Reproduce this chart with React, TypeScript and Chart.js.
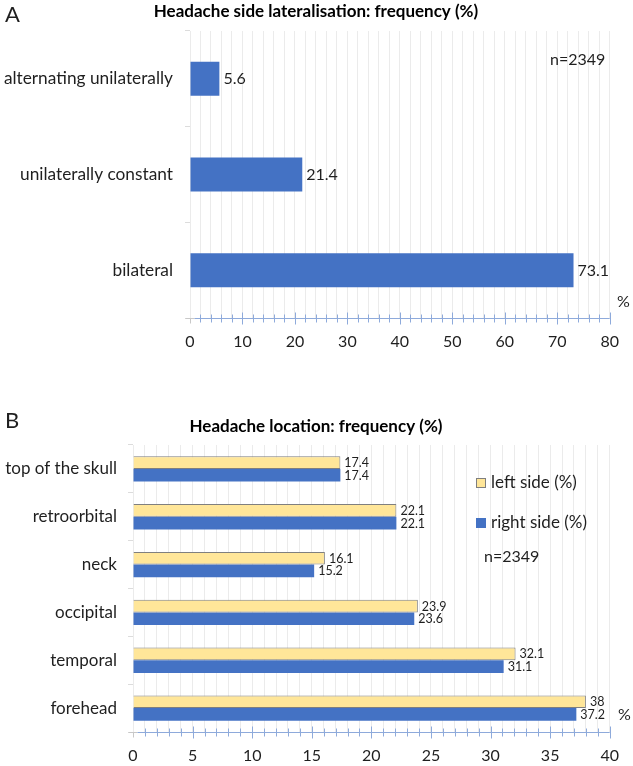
import React, { useEffect, useRef } from 'react';
import { Chart, registerables } from 'chart.js';

Chart.register(...registerables);

// ---------- data ----------
const latCategories = ['alternating unilaterally', 'unilaterally constant', 'bilateral'];
const latValues = [5.6, 21.4, 73.1];

const locCategories = ['top of the skull', 'retroorbital', 'neck', 'occipital', 'temporal', 'forehead'];
const leftSideValues = [17.4, 22.1, 16.1, 23.9, 32.1, 38];
const rightSideValues = [17.4, 22.1, 15.2, 23.6, 31.1, 37.2];

const titleA = 'Headache side lateralisation: frequency (%)';
const titleB = 'Headache location: frequency (%)';
const sampleNote = 'n=2349';
const leftLabel = 'left side (%)';
const rightLabel = 'right side (%)';

const FONT = 'Lato, "Open Sans", sans-serif';
const BLUE = '#4472c4';
const YELLOW = '#ffe699';
const TEXT = '#1f1f1f';

// ---------- plugins ----------
const blueAxisPlugin = {
  id: 'blueAxis',
  afterDatasetsDraw(chart: any, _args: any, opts: any) {
    const { ctx, chartArea, scales } = chart;
    const x = scales.x;
    const y0 = Math.round(chartArea.bottom) + 0.5;
    const left = Math.round(chartArea.left) + 0.5;
    ctx.save();
    ctx.lineWidth = 1;
    // grey stub at the origin
    ctx.strokeStyle = '#c8c8c8';
    ctx.beginPath();
    ctx.moveTo(left - 5, y0);
    ctx.lineTo(left + 4, y0);
    ctx.moveTo(left, y0);
    ctx.lineTo(left, y0 + 5);
    ctx.stroke();
    // blue axis with crossing ticks
    ctx.strokeStyle = '#8eaadb';
    ctx.beginPath();
    ctx.moveTo(left + 4, y0);
    ctx.lineTo(chartArea.right, y0);
    const n = Math.round((x.max - x.min) / opts.minor);
    for (let i = 1; i <= n; i++) {
      const v = x.min + i * opts.minor;
      const px = Math.round(x.getPixelForValue(v)) + 0.5;
      const major = i % opts.every === 0;
      const h = major ? 6 : 4;
      ctx.moveTo(px, y0 - h);
      ctx.lineTo(px, y0 + h);
    }
    ctx.stroke();
    ctx.restore();
  },
};

const valueLabelPlugin = {
  id: 'valueLabels',
  afterDatasetsDraw(chart: any, _args: any, opts: any) {
    const { ctx } = chart;
    ctx.save();
    ctx.font = `${opts.size}px ${FONT}`;
    ctx.fillStyle = TEXT;
    ctx.textAlign = 'left';
    ctx.textBaseline = 'middle';
    chart.data.datasets.forEach((ds: any, di: number) => {
      const meta = chart.getDatasetMeta(di);
      meta.data.forEach((el: any, i: number) => {
        ctx.fillText(String(ds.data[i]), el.x + opts.offset, el.y + 0.5);
      });
    });
    ctx.restore();
  },
};

const textPlugin = {
  id: 'freeText',
  afterDraw(chart: any, _args: any, opts: any) {
    const { ctx } = chart;
    ctx.save();
    (opts.items || []).forEach((it: any) => {
      if (it.box) {
        ctx.fillStyle = it.box;
        ctx.fillRect(it.x, it.y - 5, 10, 10);
        if (it.border) {
          ctx.strokeStyle = it.border;
          ctx.lineWidth = 1;
          ctx.strokeRect(it.x + 0.5, it.y - 4.5, 9, 9);
        }
        return;
      }
      ctx.font = `${it.bold ? 'bold ' : ''}${it.size}px ${FONT}`;
      ctx.fillStyle = it.color || TEXT;
      ctx.textAlign = it.align || 'left';
      ctx.textBaseline = 'middle';
      ctx.fillText(it.text, it.x, it.y);
    });
    ctx.restore();
  },
};

function ChartA() {
  const ref = useRef<HTMLCanvasElement>(null);
  useEffect(() => {
    const chart = new Chart(ref.current!, {
      type: 'bar',
      data: {
        labels: latCategories,
        datasets: [
          {
            label: 'frequency (%)',
            data: latValues,
            backgroundColor: BLUE,
            borderWidth: 0,
            barPercentage: 0.395,
            categoryPercentage: 0.9,
          },
        ],
      },
      options: {
        indexAxis: 'y',
        animation: false,
        responsive: false,
        layout: { padding: { left: 0, right: 16, top: 31, bottom: 0 } },
        plugins: {
          legend: { display: false },
          title: { display: false },
          tooltip: { enabled: false },
          valueLabels: { size: 16, offset: 4 },
          blueAxis: { minor: 2, every: 5 },
          freeText: {
            items: [
              { text: 'A', x: 5, y: 15, size: 22 },
              { text: titleA, x: 316, y: 12, size: 17, bold: true, align: 'center', color: '#000' },
              { text: sampleNote, x: 550, y: 60, size: 16 },
              { text: '%', x: 617, y: 302, size: 16 },
            ],
          },
        } as any,
        scales: {
          x: {
            min: 0,
            max: 80,
            ticks: {
              stepSize: 2,
              autoSkip: false,
              maxRotation: 0,
              padding: 14,
              color: TEXT,
              font: { family: FONT, size: 16 },
              callback: (v: any) => (Number(v) % 10 === 0 ? String(v) : ''),
            },
            grid: { color: '#ebebeb', drawTicks: false },
            border: { display: false },
            afterFit: (s: any) => {
              s.height = 42;
            },
          },
          y: {
            ticks: {
              padding: 12,
              color: TEXT,
              font: { family: FONT, size: 17.3 },
            },
            grid: { drawOnChartArea: false, tickLength: 5, color: '#dcdcdc', offset: true },
            border: { display: false },
            afterFit: (s: any) => {
              s.width = 190;
            },
          },
        },
      },
      plugins: [blueAxisPlugin, valueLabelPlugin, textPlugin],
    });
    return () => chart.destroy();
  }, []);
  return <canvas ref={ref} width={633} height={360} style={{ display: 'block' }} />;
}

function ChartB() {
  const ref = useRef<HTMLCanvasElement>(null);
  useEffect(() => {
    const chart = new Chart(ref.current!, {
      type: 'bar',
      data: {
        labels: locCategories,
        datasets: [
          {
            label: leftLabel,
            data: leftSideValues,
            backgroundColor: YELLOW,
            borderColor: '#7f7f7f',
            borderWidth: 1,
            barPercentage: 1,
            categoryPercentage: 0.53,
          },
          {
            label: rightLabel,
            data: rightSideValues,
            backgroundColor: BLUE,
            borderWidth: 0,
            barPercentage: 1,
            categoryPercentage: 0.53,
          },
        ],
      },
      options: {
        indexAxis: 'y',
        animation: false,
        responsive: false,
        layout: { padding: { left: 0, right: 16, top: 65, bottom: 0 } },
        plugins: {
          legend: { display: false },
          title: { display: false },
          tooltip: { enabled: false },
          valueLabels: { size: 12.5, offset: 4 },
          blueAxis: { minor: 1, every: 5 },
          freeText: {
            items: [
              { text: 'B', x: 5, y: 41, size: 22 },
              { text: titleB, x: 316, y: 47, size: 17, bold: true, align: 'center', color: '#000' },
              { box: YELLOW, border: '#7f7f7f', x: 476, y: 103 },
              { text: leftLabel, x: 491, y: 103, size: 17 },
              { box: BLUE, x: 476, y: 143 },
              { text: rightLabel, x: 491, y: 143, size: 17 },
              { text: sampleNote, x: 484, y: 177, size: 16 },
              { text: '%', x: 618, y: 335, size: 16 },
            ],
          },
        } as any,
        scales: {
          x: {
            min: 0,
            max: 40,
            ticks: {
              stepSize: 1,
              autoSkip: false,
              maxRotation: 0,
              padding: 14,
              color: TEXT,
              font: { family: FONT, size: 16 },
              callback: (v: any) => (Number(v) % 5 === 0 ? String(v) : ''),
            },
            grid: { color: '#ebebeb', drawTicks: false },
            border: { display: false },
            afterFit: (s: any) => {
              s.height = 34;
            },
          },
          y: {
            ticks: {
              padding: 11,
              color: TEXT,
              font: { family: FONT, size: 17 },
            },
            grid: { drawOnChartArea: false, tickLength: 5, color: '#dcdcdc', offset: true },
            border: { display: false },
            afterFit: (s: any) => {
              s.width = 133;
            },
          },
        },
      },
      plugins: [blueAxisPlugin, valueLabelPlugin, textPlugin],
    });
    return () => chart.destroy();
  }, []);
  return <canvas ref={ref} width={633} height={386} style={{ display: 'block' }} />;
}

export default function App() {
  return (
    <div style={{ position: 'fixed', left: 0, top: 0, width: 633, height: 766, background: '#fff' }}>
      <div style={{ position: 'absolute', left: 0, top: 0 }}>
        <ChartA />
      </div>
      <div style={{ position: 'absolute', left: 0, top: 380 }}>
        <ChartB />
      </div>
    </div>
  );
}
